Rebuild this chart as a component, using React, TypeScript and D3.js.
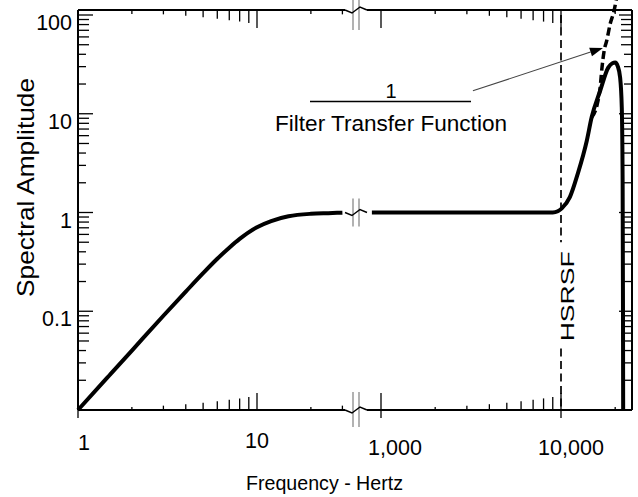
import React from 'react';
import * as d3 from 'd3';

// spectral amplitude, low band (left of the axis break)
const lowFreq = [1, 1.5, 2, 3, 4, 5, 6, 7, 8, 10, 12, 15, 20, 25, 30];
const lowAmp = [0.01, 0.0225, 0.04, 0.09, 0.158, 0.243, 0.34, 0.44, 0.54, 0.71, 0.82, 0.915, 0.97, 0.985, 0.995];

// spectral amplitude, high band (right of the break)
const highFreq = [890, 1000, 2000, 5000, 8000, 9000, 9600, 10100, 11200, 12400, 13900, 14800, 16500, 18300, 19300, 20000, 20700, 21300, 21760, 22000, 22100, 22150];
const highAmp = [1, 1, 1, 1, 1, 1, 1.03, 1.1, 1.43, 2.48, 5.3, 9.2, 17.1, 29.3, 32.5, 33, 30, 23.3, 11.6, 2, 0.1, 0.01];

// 1 / filter transfer function (dashed)
const invFreq = [14800, 15900, 16500, 16900, 17350, 17950, 18750, 19700, 20300];
const invAmp = [9.2, 12.5, 18.4, 29.5, 43, 55, 81, 110, 145];

const yTicks = [0.1, 1, 10, 100];
const yTickLabels = ['0.1', '1', '10', '100'];
const xTicksLow = [1, 10];
const xTicksHigh = [1000, 10000];
const xTickLabels = ['1', '10', '1,000', '10,000'];

const hsrsfFreq = 10000;
// arrow from the annotation to the dashed curve: [freq, amp]
const arrowFrom = [3240, 17.1];
const arrowTo = [17100, 46.3];

const W = 638;
const H = 497;
const L = 78;
const R = 632;
const T = 10;
const B = 410;
const breakX = 356;
const font = '"Liberation Sans", Arial, Helvetica, sans-serif';

const y = d3.scaleLog().domain([0.01, 100]).range([B, 15]);
const xLo = d3.scaleLog().domain([1, 10]).range([L, 257]);
const xHi = d3.scaleLog().domain([1000, 10000]).range([381, 561]);

const lowPts = lowFreq.map((f, i) => [xLo(f), y(lowAmp[i])] as [number, number]);
const highPts = highFreq.map((f, i) => [xHi(f), y(highAmp[i])] as [number, number]);
const invPts = invFreq.map((f, i) => [xHi(f), y(invAmp[i])] as [number, number]);
const line = d3.line().curve(d3.curveMonotoneX);

// minor tick positions
const mults = d3.range(2, 10);
const lowMinor = mults.map(m => ({ x: xLo(m), m }))
  .concat([2, 3].map(m => ({ x: xLo(m * 10), m })))
  .filter(t => t.x < breakX - 8);
const highMinor = mults.map(m => ({ x: xHi(m * 1000), m }))
  .concat([2].map(m => ({ x: xHi(m * 10000), m })))
  .filter(t => t.x < R);
const xMinor = lowMinor.concat(highMinor);
const xMajor = xTicksLow.map(v => xLo(v)).concat(xTicksHigh.map(v => xHi(v)));
const yMinor: { y: number; m: number }[] = [];
[0.01, 0.1, 1, 10].forEach(d => mults.forEach(m => yMinor.push({ y: y(d * m), m })));

const xLabelDx = [6, 0, 14, 10];
const xLabelY = [450, 448, 455, 455];

function BreakMark({ x, y0, y1, yz }: { x: number; y0: number; y1: number; yz: number }) {
  return (
    <g>
      <line x1={x - 3} x2={x - 3} y1={y0} y2={y1} stroke="#999" strokeWidth={1.5} />
      <line x1={x + 3} x2={x + 3} y1={y0} y2={y1} stroke="#999" strokeWidth={1.5} />
      <path d={`M${x - 11},${yz} L${x - 4},${yz + 3} L${x + 4},${yz - 3} L${x + 11},${yz}`}
        fill="none" stroke="#000" strokeWidth={1.5} />
    </g>
  );
}

export default function App() {
  const a0 = [xHi(arrowFrom[0]), y(arrowFrom[1])];
  const a1 = [xHi(arrowTo[0]), y(arrowTo[1])];
  const ang = Math.atan2(a1[1] - a0[1], a1[0] - a0[0]);
  const hl = 13, hw = 4.5;
  const base = [a1[0] - hl * Math.cos(ang), a1[1] - hl * Math.sin(ang)];
  const head = [
    a1,
    [base[0] + hw * Math.sin(ang), base[1] - hw * Math.cos(ang)],
    [base[0] - hw * Math.sin(ang), base[1] + hw * Math.cos(ang)],
  ];
  const hx = xHi(hsrsfFreq);
  const yOne = y(1);

  return (
    <svg width={W} height={H} style={{ position: 'absolute', left: 0, top: 0, background: '#fff' }}
      fontFamily={font}>
      <rect width={W} height={H} fill="#fff" />

      {/* frame */}
      <g stroke="#000" strokeWidth={2} fill="none">
        <line x1={L} x2={L} y1={T} y2={B} />
        <line x1={R} x2={R} y1={T} y2={B} />
        <line x1={L} x2={breakX - 11} y1={T} y2={T} />
        <line x1={breakX + 11} x2={R} y1={T} y2={T} />
        <line x1={L} x2={breakX - 11} y1={B} y2={B} />
        <line x1={breakX + 11} x2={R} y1={B} y2={B} />
      </g>

      {/* ticks */}
      <g stroke="#000" strokeWidth={1.3}>
        {xMinor.map((t, i) => (
          <g key={'xm' + i}>
            <line x1={t.x} x2={t.x} y1={B} y2={B - 1.45 * t.m} />
            <line x1={t.x} x2={t.x} y1={T} y2={T + Math.max(4, 1.45 * t.m)} />
          </g>
        ))}
        {xMajor.map((x, i) => (
          <g key={'xM' + i}>
            <line x1={x} x2={x} y1={B + (i === 1 ? 0 : 8)} y2={B - 17} />
            <line x1={x} x2={x} y1={T} y2={T + 18} />
          </g>
        ))}
        {yMinor.map((t, i) => (
          <g key={'ym' + i}>
            <line x1={L} x2={L + (t.m >= 5 ? 11 : 8)} y1={t.y} y2={t.y} />
            <line x1={R} x2={R - (t.m >= 5 ? 11 : 8)} y1={t.y} y2={t.y} />
          </g>
        ))}
        {yTicks.map((v, i) => (
          <g key={'yM' + i}>
            <line x1={L} x2={L + 15} y1={y(v)} y2={y(v)} />
            <line x1={R} x2={R - 13} y1={y(v)} y2={y(v)} />
          </g>
        ))}
      </g>

      {/* axis breaks */}
      <BreakMark x={breakX} y0={0} y1={30} yz={T} />
      <BreakMark x={breakX} y0={392} y1={427} yz={B} />
      <BreakMark x={breakX} y0={yOne - 14} y1={yOne + 14} yz={yOne} />

      {/* HSRSF line */}
      <g stroke="#000" strokeWidth={1.7} strokeDasharray="8,4.5">
        <line x1={hx} x2={hx} y1={y(100)} y2={y(0.5)} />
        <line x1={hx} x2={hx} y1={y(0.042)} y2={B} />
      </g>
      <text transform={`translate(${hx + 13},${(y(0.5) + y(0.042)) / 2 + 1}) rotate(-90)`}
        textAnchor="middle" fontSize={18} textLength={90} lengthAdjust="spacingAndGlyphs">HSRSF</text>

      {/* curves */}
      <path d={line(lowPts) || ''} fill="none" stroke="#000" strokeWidth={4} strokeLinejoin="round" />
      <path d={line(highPts) || ''} fill="none" stroke="#000" strokeWidth={4} strokeLinejoin="round" />
      <path d={line(invPts) || ''} fill="none" stroke="#000" strokeWidth={3.5} strokeDasharray="8,4" />

      {/* annotation */}
      <text x={391} y={97.5} textAnchor="middle" fontSize={20}>1</text>
      <line x1={310} x2={471} y1={101.5} y2={101.5} stroke="#000" strokeWidth={1.3} />
      <text x={275} y={131} fontSize={22.5} textLength={232} lengthAdjust="spacingAndGlyphs">Filter Transfer Function</text>
      <line x1={a0[0]} y1={a0[1]} x2={base[0]} y2={base[1]} stroke="#444" strokeWidth={1.1} />
      <polygon points={head.map(p => p.join(',')).join(' ')} fill="#000" />

      {/* tick labels */}
      {yTicks.map((v, i) => (
        <text key={'yl' + i} x={72} y={y(v) + 15} textAnchor="end" fontSize={21.5}>{yTickLabels[i]}</text>
      ))}
      {xMajor.map((x, i) => (
        <text key={'xl' + i} x={x + xLabelDx[i]} y={xLabelY[i]} textAnchor="middle" fontSize={21.5}>{xTickLabels[i]}</text>
      ))}

      {/* axis titles */}
      <text x={324.5} y={490} textAnchor="middle" fontSize={20.5} textLength={157} lengthAdjust="spacingAndGlyphs">Frequency - Hertz</text>
      <text transform={`translate(33.5,187.5) rotate(-90)`} textAnchor="middle" fontSize={24}
        textLength={219} lengthAdjust="spacingAndGlyphs">Spectral Amplitude</text>
    </svg>
  );
}
